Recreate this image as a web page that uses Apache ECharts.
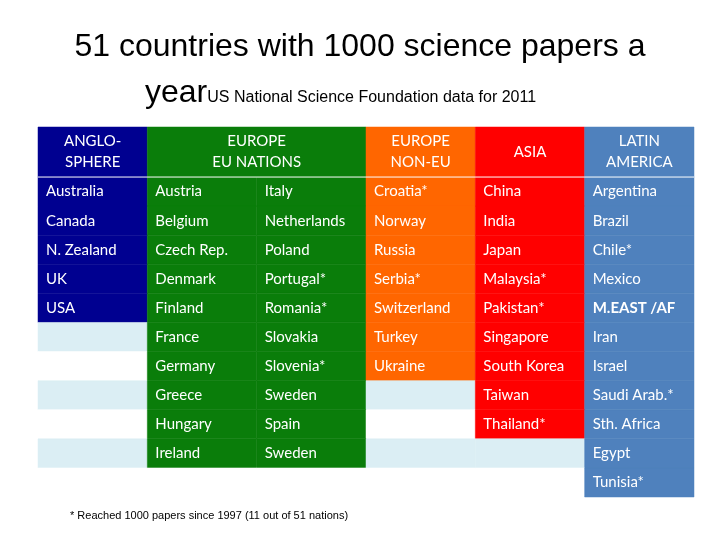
<!DOCTYPE html>
<html><head><meta charset="utf-8">
<style>body{margin:0;background:#fff}#chart{width:720px;height:540px}</style>
</head><body>
<div id="chart"></div>
<script src="https://cdn.jsdelivr.net/npm/echarts@6/dist/echarts.min.js"></script>
<script>
let headers = ["ANGLO-\nSPHERE", "EUROPE\nEU NATIONS", "EUROPE\nNON-EU", "ASIA", "LATIN\nAMERICA"];
let headerCols = [[0, 1], [1, 2], [3, 1], [4, 1], [5, 1]];
let colColors = ["#000090", "#0a7d0a", "#0a7d0a", "#ff6600", "#ff0000", "#4f81bd"];
let anglo = ["Australia", "Canada", "N. Zealand", "UK", "USA"];
let euA = ["Austria", "Belgium", "Czech Rep.", "Denmark", "Finland", "France", "Germany", "Greece", "Hungary", "Ireland"];
let euB = ["Italy", "Netherlands", "Poland", "Portugal*", "Romania*", "Slovakia", "Slovenia*", "Sweden", "Spain", "Sweden"];
let nonEu = ["Croatia*", "Norway", "Russia", "Serbia*", "Switzerland", "Turkey", "Ukraine"];
let asia = ["China", "India", "Japan", "Malaysia*", "Pakistan*", "Singapore", "South Korea", "Taiwan", "Thailand*"];
let latin = ["Argentina", "Brazil", "Chile*", "Mexico", "M.EAST /AF", "Iran", "Israel", "Saudi Arab.*", "Sth. Africa", "Egypt", "Tunisia*"];
let columns = [anglo, euA, euB, nonEu, asia, latin];
let boldCells = ["M.EAST /AF"];
let nRows = 11, headH = 1.72;

let data = [];
headers.forEach((h, i) => data.push([headerCols[i][0], 0, headerCols[i][1], headH, colColors[headerCols[i][0]], h, 1]));
for (let r = 0; r < nRows; r++) {
	for (let c = 0; c < 6; c++) {
		let name = columns[c][r];
		let bg = name ? colColors[c] : (r % 2 === 1 && !(r === 10 && c === 1) ? "#dbeef4" : "#ffffff");
		data.push([c, headH + r, 1, 1, bg, name || "", 0]);
	}
}

let chart = echarts.init(document.getElementById("chart"));
chart.setOption({
	animation: false,
	title: [
		{text: "51 countries with 1000 science papers a", left: "center", top: 26,
			textStyle: {fontFamily: "Liberation Sans", fontSize: 32, fontWeight: "normal", color: "#000"}},
		{text: "year{s|US National Science Foundation data for 2011}", left: 140, top: 72,
			textStyle: {fontFamily: "Liberation Sans", fontSize: 32, fontWeight: "normal", color: "#000",
				rich: {s: {fontFamily: "Liberation Sans", fontSize: 16, color: "#000", padding: [10, 0, 0, 0]}}}}
	],
	grid: {left: 38, right: 26, top: 127, bottom: 43},
	xAxis: {type: "value", min: 0, max: 6, show: false},
	yAxis: {type: "value", min: 0, max: headH + nRows, inverse: true, show: false},
	graphic: [{type: "text", left: 70, top: 510,
		style: {text: "* Reached 1000 papers since 1997 (11 out of 51 nations)", font: "11px Liberation Sans", fill: "#000"}}],
	series: [{
		type: "custom",
		data: data,
		renderItem: (params, api) => {
			let c = api.value(0), r = api.value(1), w = api.value(2), h = api.value(3);
			let p0 = api.coord([c, r]), p1 = api.coord([c + w, r + h]);
			let item = data[params.dataIndex];
			let isHead = item[6] === 1;
			let txt = item[5];
			return {
				type: "group",
				children: [
					{type: "rect", shape: {x: p0[0], y: p0[1], width: p1[0] - p0[0], height: p1[1] - p0[1]},
						style: {fill: item[4], stroke: item[4], lineWidth: 0.5}},
					{type: "text", style: {
						text: txt,
						x: isHead ? (p0[0] + p1[0]) / 2 : p0[0] + 8,
						y: (p0[1] + p1[1]) / 2,
						align: isHead ? "center" : "left",
						verticalAlign: "middle",
						fill: "#fff",
						lineHeight: 21,
						font: (boldCells.includes(txt) ? "bold " : "") + "15px Lato"
					}}
				]
			};
		}
	}, {
		type: "custom",
		data: [[0]],
		renderItem: (params, api) => {
			let a = api.coord([0, headH]), b = api.coord([6, headH]);
			return {type: "line", shape: {x1: a[0], y1: a[1], x2: b[0], y2: b[1]}, style: {stroke: "#fff", lineWidth: 1}};
		}
	}]
});
</script>
</body></html>
